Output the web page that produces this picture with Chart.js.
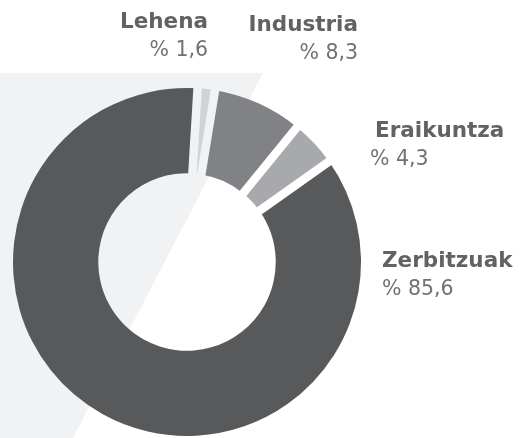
<!DOCTYPE html>
<html>
<head>
<meta charset="utf-8">
<script src="https://cdn.jsdelivr.net/npm/chart.js@4.4.0/dist/chart.umd.min.js"></script>
<style>
  html, body { margin: 0; padding: 0; background: #ffffff; }
  #wrap { width: 521px; height: 438px; position: relative; }
</style>
</head>
<body>
<div id="wrap"><canvas id="sectorChart" width="521" height="438"></canvas></div>
<script>
// --- DATA ---
const sectors = ["Lehena", "Industria", "Eraikuntza", "Zerbitzuak"];
const shares = [1.6, 8.3, 4.3, 85.6];
const shareLabels = ["% 1,6", "% 8,3", "% 4,3", "% 85,6"];

// --- STYLE ---
const sliceColors = ["#d1d2d4", "#808285", "#a7a9ac", "#58595b"];
const gapWidth = 8.5;
// label anchor (x, baseline y of the title) and alignment
const labelPlaces = [
  { x: 208, y: 28, align: "right" },
  { x: 358, y: 31, align: "right" },
  { x: 375, y: 137, align: "left" },
  { x: 382, y: 267, align: "left" },
];
const valueShift = [0, 0, -5, 0];

function drawBackdrop(ctx) {
  ctx.fillStyle = "#f1f2f4";
  ctx.beginPath();
  ctx.moveTo(0, 73);
  ctx.lineTo(263, 73);
  ctx.lineTo(73, 438);
  ctx.lineTo(0, 438);
  ctx.closePath();
  ctx.fill();
}

// cut straight gaps between the slices, then lay the slanted panel underneath
const gapsAndBackdrop = {
  id: "gapsAndBackdrop",
  afterDatasetsDraw(chart) {
    const ctx = chart.ctx;
    const arcs = chart.getDatasetMeta(0).data;
    ctx.save();
    ctx.globalCompositeOperation = "destination-out";
    ctx.lineWidth = gapWidth;
    ctx.lineCap = "butt";
    arcs.forEach((arc) => {
      const a = arc.startAngle;
      ctx.beginPath();
      ctx.moveTo(arc.x + Math.cos(a) * (arc.innerRadius - 3), arc.y + Math.sin(a) * (arc.innerRadius - 3));
      ctx.lineTo(arc.x + Math.cos(a) * (arc.outerRadius + 3), arc.y + Math.sin(a) * (arc.outerRadius + 3));
      ctx.stroke();
    });
    ctx.globalCompositeOperation = "destination-over";
    drawBackdrop(ctx);
    ctx.restore();
  },
};

// sector name + percentage next to the ring
const sectorLabels = {
  id: "sectorLabels",
  afterDraw(chart) {
    const ctx = chart.ctx;
    ctx.save();
    ctx.textBaseline = "alphabetic";
    sectors.forEach((name, i) => {
      const p = labelPlaces[i];
      ctx.textAlign = p.align;
      ctx.fillStyle = "#616264";
      ctx.font = "bold 21.5px 'DejaVu Sans'";
      ctx.fillText(name, p.x, p.y);
      ctx.fillStyle = "#707174";
      ctx.font = "400 20.5px 'DejaVu Sans'";
      ctx.fillText(shareLabels[i], p.x + valueShift[i], p.y + 28);
    });
    ctx.restore();
  },
};

const ctx = document.getElementById("sectorChart").getContext("2d");
new Chart(ctx, {
  type: "doughnut",
  data: {
    labels: sectors,
    datasets: [
      {
        data: shares,
        backgroundColor: sliceColors,
        borderWidth: 0,
      },
    ],
  },
  options: {
    responsive: false,
    animation: false,
    cutout: "51%",
    rotation: 3.5,
    layout: { padding: { left: 13, top: 88, right: 160, bottom: 2 } },
    plugins: {
      legend: { display: false },
      tooltip: { enabled: false },
    },
  },
  plugins: [gapsAndBackdrop, sectorLabels],
});
</script>
</body>
</html>
